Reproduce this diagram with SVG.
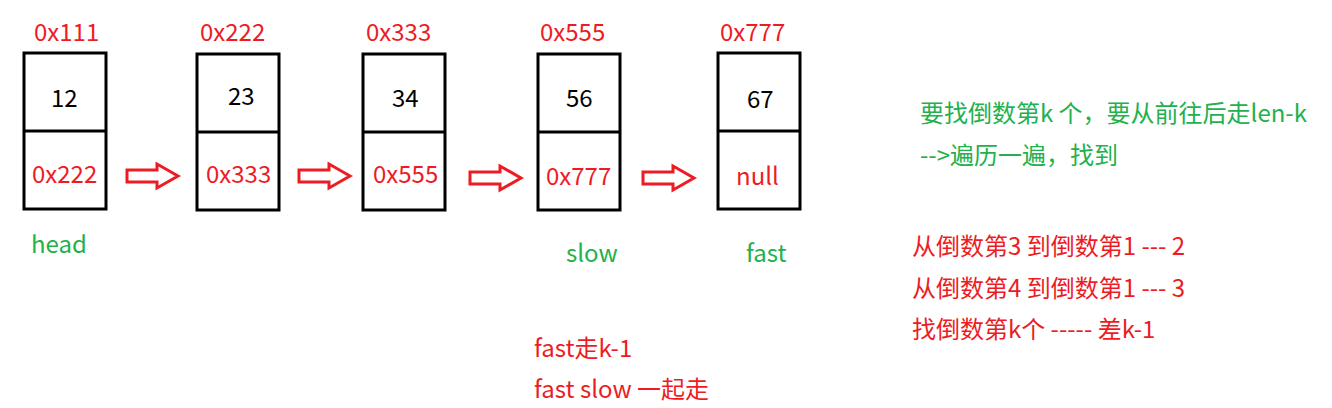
<svg xmlns="http://www.w3.org/2000/svg" width="1332" height="408" viewBox="0 0 1332 408">
<style>
text{font-family:"Noto Sans CJK SC","Liberation Sans",sans-serif;font-size:24px}
.r{fill:#ed1c24}.g{fill:#22b14c}.k{fill:#000}
.box{fill:none;stroke:#000;stroke-width:3}
.arr{fill:none;stroke:#ed1c24;stroke-width:3}
</style>
<rect width="1332" height="408" fill="#fff"/>
<g id="n1"><text class="r" x="34" y="41">0x111</text><rect class="box" x="24" y="53" width="82" height="156"/><line class="box" x1="24" y1="131" x2="106" y2="131"/><text class="k" x="51" y="107">12</text><text class="r" x="32" y="183">0x222</text></g>
<g id="n2"><text class="r" x="200" y="41">0x222</text><rect class="box" x="197" y="54" width="82" height="156"/><line class="box" x1="197" y1="132" x2="279" y2="132"/><text class="k" x="228" y="105">23</text><text class="r" x="206" y="183">0x333</text></g>
<g id="n3"><text class="r" x="366" y="41">0x333</text><rect class="box" x="363" y="54" width="82" height="156"/><line class="box" x1="363" y1="132" x2="445" y2="132"/><text class="k" x="392" y="107">34</text><text class="r" x="373" y="183">0x555</text></g>
<g id="n4"><text class="r" x="540" y="41">0x555</text><rect class="box" x="538" y="54" width="82" height="156"/><line class="box" x1="538" y1="132" x2="620" y2="132"/><text class="k" x="566" y="107">56</text><text class="r" x="546" y="185">0x777</text></g>
<g id="n5"><text class="r" x="720" y="41">0x777</text><rect class="box" x="718" y="53" width="82" height="156"/><line class="box" x1="718" y1="131" x2="800" y2="131"/><text class="k" x="747" y="108">67</text><text class="r" x="736" y="185">null</text></g>
<g id="connectors">
<path class="arr" d="M127,170 H157 V164 L178,176 L157,188 V182 H127 Z"/>
<path class="arr" d="M299,170 H329 V164 L350,176 L329,188 V182 H299 Z"/>
<path class="arr" d="M470,172 H500 V166 L521,178 L500,190 V184 H470 Z"/>
<path class="arr" d="M643,172 H673 V166 L694,178 L673,190 V184 H643 Z"/>
</g>
<g id="labels">
<text class="g" x="31" y="253">head</text>
<text class="g" x="566" y="262">slow</text>
<text class="g" x="746" y="262">fast</text>
<text class="g" x="920" y="122">要找倒数第k 个，要从前往后走len-k</text>
<text class="g" x="920" y="164">--&gt;遍历一遍，找到</text>
<text class="r" x="912" y="255">从倒数第3 到倒数第1 --- 2</text>
<text class="r" x="912" y="297">从倒数第4 到倒数第1 --- 3</text>
<text class="r" x="912" y="338">找倒数第k个 ----- 差k-1</text>
<text class="r" x="534" y="357">fast走k-1</text>
<text class="r" x="534" y="398">fast slow 一起走</text>
</g>
</svg>
